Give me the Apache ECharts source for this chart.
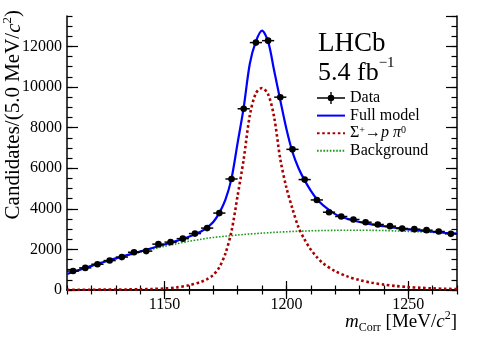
<!DOCTYPE html>
<html>
<head>
<meta charset="utf-8">
<script src="https://cdn.jsdelivr.net/npm/echarts@6/dist/echarts.min.js"></script>
<style>
  html, body { margin: 0; padding: 0; background: #fff; }
  #massFit { width: 481px; height: 346px; }
</style>
</head>
<body>
<div id="massFit"></div>
<script>
// data points (bin centres, 5 MeV bins)
var binCenters = [1112.5, 1117.5, 1122.5, 1127.5, 1132.5, 1137.5, 1142.5, 1147.5, 1152.5, 1157.5,
  1162.5, 1167.5, 1172.5, 1177.5, 1182.5, 1187.5, 1192.5, 1197.5, 1202.5, 1207.5,
  1212.5, 1217.5, 1222.5, 1227.5, 1232.5, 1237.5, 1242.5, 1247.5, 1252.5, 1257.5,
  1262.5, 1267.5];
var counts = [934, 1090, 1270, 1450, 1622, 1860, 1916, 2260, 2359, 2530,
  2780, 3050, 3790, 5470, 8930, 12190, 12285, 9500, 6930, 5440,
  4437, 3833, 3621, 3474, 3341, 3228, 3145, 3032, 2997, 2948,
  2883, 2767];
var binHalfWidth = 2.5;

// fit curves
var modelX = [1110, 1115, 1120, 1125, 1130, 1135, 1140, 1145, 1150, 1155,
  1160, 1165, 1167.5, 1170, 1172.5, 1175, 1177.5, 1180, 1182.5, 1185,
  1187.5, 1190, 1192.5, 1195, 1197.5, 1200, 1202.5, 1205, 1207.5, 1210,
  1212.5, 1215, 1220, 1225, 1230, 1235, 1240, 1245, 1250, 1255,
  1260, 1265, 1270];
var fullModel = [790, 990, 1190, 1380, 1560, 1730, 1900, 2070, 2240, 2420,
  2620, 2880, 3080, 3350, 3800, 4450, 5500, 7250, 9000, 11150,
  12250, 12780, 12250, 10800, 9350, 7950, 6800, 6000, 5400, 4900,
  4480, 4180, 3740, 3510, 3350, 3230, 3140, 3060, 2990, 2930,
  2870, 2820, 2780];
var signal = [10, 12, 15, 18, 22, 28, 35, 50, 75, 130,
  230, 400, 540, 740, 1120, 1800, 2900, 4650, 6450, 8600,
  9700, 9950, 9650, 8500, 6450, 5050, 4000, 3080, 2480, 2000,
  1620, 1320, 930, 670, 490, 360, 265, 195, 145, 110,
  80, 60, 45];
var background = [775, 970, 1170, 1355, 1530, 1700, 1860, 2010, 2150, 2280,
  2400, 2500, 2550, 2590, 2620, 2650, 2680, 2710, 2735, 2760,
  2780, 2800, 2820, 2840, 2855, 2870, 2885, 2895, 2905, 2915,
  2925, 2930, 2940, 2945, 2945, 2940, 2930, 2910, 2890, 2865,
  2840, 2815, 2790];

var xMajorTicks = [1150, 1200, 1250];

var serif = 'Liberation Serif, Times New Roman, serif';

function zip(xs, ys) {
  return xs.map(function (x, i) { return [x, ys[i]]; });
}

var myChart = echarts.init(document.getElementById('massFit'));

function renderDataPoint(params, api) {
  var x = api.value(0), y = api.value(1), err = api.value(2);
  var c = api.coord([x, y]);
  var l = api.coord([x - binHalfWidth, y]);
  var r = api.coord([x + binHalfWidth, y]);
  var lo = api.coord([x, y - err]);
  var hi = api.coord([x, y + err]);
  var st = { stroke: '#000', lineWidth: 1.5 };
  return {
    type: 'group',
    children: [
      { type: 'line', shape: { x1: l[0], y1: c[1], x2: r[0], y2: c[1] }, style: st },
      { type: 'line', shape: { x1: c[0], y1: lo[1], x2: c[0], y2: hi[1] }, style: st },
      { type: 'circle', shape: { cx: c[0], cy: c[1], r: 3.3 }, style: { fill: '#000' } }
    ]
  };
}

var legendLabels = {
  'Data': 'Data',
  'Full model': 'Full model',
  'Signal': '{t|Σ}{s|+}{t|→}{i|p}{t| }{i|π}{s|0}',
  'Background': 'Background'
};

function xAx(pos, major) {
  var ax = {
    type: 'value', min: 1110, max: 1270, position: pos,
    axisLine: { show: major, lineStyle: { color: '#000', width: 1.5 } },
    splitLine: { show: false },
    axisLabel: { show: false },
    axisTick: { inside: true, length: major ? 9 : 4.5, lineStyle: { color: '#000', width: 1.2 } }
  };
  if (major) {
    ax.axisTick.customValues = xMajorTicks;
  } else {
    ax.interval = 10;
  }
  return ax;
}

function yAx(pos, major) {
  return {
    type: 'value', min: 0, max: 13500, position: pos,
    interval: major ? 2000 : 500,
    axisLine: { show: major, lineStyle: { color: '#000', width: 1.5 } },
    splitLine: { show: false },
    axisLabel: { show: false },
    axisTick: { inside: true, length: major ? 11 : 5.5, lineStyle: { color: '#000', width: 1.2 } }
  };
}

function plainNumber(v) { return String(v); }

var xAxes = [xAx('bottom', true), xAx('bottom', false), xAx('top', true), xAx('top', false)];
xAxes[0].axisLabel = {
  show: true, customValues: xMajorTicks, margin: 7, formatter: plainNumber,
  color: '#000', fontFamily: serif, fontSize: 16
};
var yAxes = [yAx('left', true), yAx('left', false), yAx('right', true), yAx('right', false)];
yAxes[0].axisLabel = {
  show: true, margin: 5, showMaxLabel: false, formatter: plainNumber,
  color: '#000', fontFamily: serif, fontSize: 16
};

var option = {
  animation: false,
  backgroundColor: '#fff',
  grid: { left: 67, right: 24, top: 16, bottom: 56 },
  xAxis: xAxes,
  yAxis: yAxes,
  legend: {
    orient: 'vertical',
    left: 311,
    top: 85,
    itemWidth: 28,
    itemHeight: 12,
    itemGap: 1.6,
    selectedMode: false,
    data: [
      { name: 'Data', icon: 'path://M0,5.3h28v1.4h-28z M13.3,0h1.4v12h-1.4z M17.3,6a3.3,3.3 0 1,1 -6.6,0a3.3,3.3 0 1,1 6.6,0z', itemStyle: { color: '#000' } },
      { name: 'Full model', itemStyle: { opacity: 0 } },
      { name: 'Signal', itemStyle: { opacity: 0 } },
      { name: 'Background', itemStyle: { opacity: 0 } }
    ],
    formatter: function (name) { return legendLabels[name]; },
    textStyle: {
      color: '#000', fontFamily: serif, fontSize: 16, lineHeight: 16,
      rich: {
        t: { fontFamily: serif, fontSize: 16, lineHeight: 16 },
        i: { fontFamily: serif, fontSize: 16, fontStyle: 'italic', lineHeight: 16 },
        s: { fontFamily: serif, fontSize: 10, verticalAlign: 'top', lineHeight: 12 }
      }
    }
  },
  graphic: [
    { type: 'text', left: 318, top: 30, style: { text: 'LHCb', fontFamily: serif, fontSize: 27, fill: '#000' } },
    {
      type: 'text', left: 318, top: 56,
      style: {
        text: '{a|5.4 fb}{s|−1}', fill: '#000',
        rich: {
          a: { fontFamily: serif, fontSize: 26, lineHeight: 30, verticalAlign: 'bottom' },
          s: { fontFamily: serif, fontSize: 15, lineHeight: 30, verticalAlign: 'top' }
        }
      }
    },
    {
      type: 'text', x: 13, y: 10, rotation: Math.PI / 2,
      style: {
        text: 'Candidates/(5.0 MeV/{i|c}{s|2})', align: 'right', verticalAlign: 'middle',
        fill: '#000', fontFamily: serif, fontSize: 21,
        rich: {
          i: { fontFamily: serif, fontSize: 21, fontStyle: 'italic', lineHeight: 24, verticalAlign: 'bottom' },
          s: { fontFamily: serif, fontSize: 13, lineHeight: 24, verticalAlign: 'top' }
        }
      }
    },
    {
      type: 'text', x: 457, y: 322,
      style: {
        text: '{i|m}{b|Corr}{t| [MeV/}{i|c}{s|2}{t|]}', align: 'right', verticalAlign: 'middle',
        fill: '#000',
        rich: {
          t: { fontFamily: serif, fontSize: 19, lineHeight: 24, verticalAlign: 'middle' },
          i: { fontFamily: serif, fontSize: 19, fontStyle: 'italic', lineHeight: 24, verticalAlign: 'middle' },
          b: { fontFamily: serif, fontSize: 12, lineHeight: 24, verticalAlign: 'bottom' },
          s: { fontFamily: serif, fontSize: 12, lineHeight: 24, verticalAlign: 'top' }
        }
      }
    }
  ],
  series: [
    {
      name: 'Background', type: 'line', xAxisIndex: 0, yAxisIndex: 0,
      data: zip(modelX, background), smooth: 0.3, symbol: 'none', z: 2,
      lineStyle: { color: '#1c9a1c', width: 1.6, type: [1.6, 1.6] },
      itemStyle: { color: '#1c9a1c' }
    },
    {
      name: 'Signal', type: 'line', xAxisIndex: 0, yAxisIndex: 0,
      data: zip(modelX, signal), smooth: 0.3, symbol: 'none', z: 3,
      lineStyle: { color: '#a80000', width: 2.6, type: [2.6, 2.6] },
      itemStyle: { color: '#a80000' }
    },
    {
      name: 'Full model', type: 'line', xAxisIndex: 0, yAxisIndex: 0,
      data: zip(modelX, fullModel), smooth: 0.3, symbol: 'none', z: 4,
      lineStyle: { color: '#0000ff', width: 2.2 },
      itemStyle: { color: '#0000ff' }
    },
    {
      name: 'Data', type: 'custom', xAxisIndex: 0, yAxisIndex: 0, z: 5,
      renderItem: renderDataPoint,
      itemStyle: { color: '#000' },
      data: binCenters.map(function (x, i) { return [x, counts[i], Math.sqrt(counts[i])]; })
    }
  ]
};

myChart.setOption(option);
</script>
</body>
</html>
